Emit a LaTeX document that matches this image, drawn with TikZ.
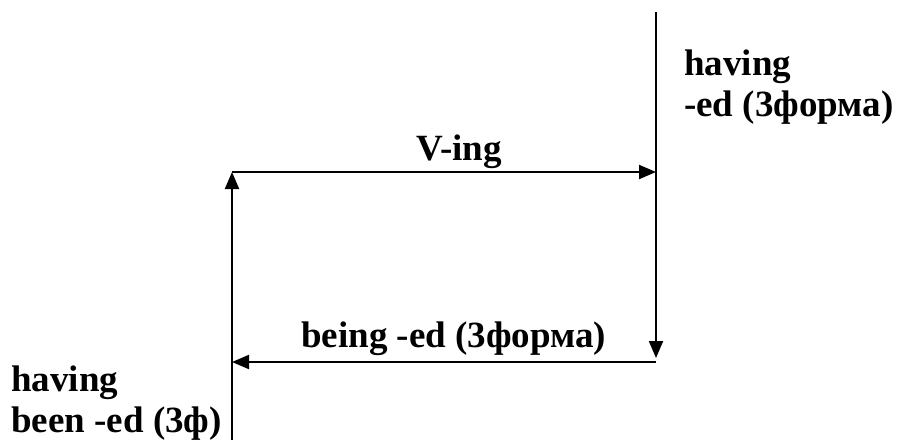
\documentclass[tikz,border=0pt]{standalone}
\usepackage{fontspec}
\setmainfont{Liberation Serif}
\usetikzlibrary{arrows.meta, positioning}

\begin{document}
\begin{tikzpicture}[x=1pt, y=-1pt,
        lbl/.style={font=\fontsize{37}{41}\selectfont\bfseries, inner sep=0pt, align=left, anchor=base west},
        arr/.style={-{Triangle[length=17pt, width=14pt]}, line width=2pt}
    ]
        \useasboundingbox (0,0) rectangle (899,440);
        % corners of the loop
        \coordinate (top) at (656,12);
        \coordinate (ul) at (232,172);
        \coordinate (ur) at (656,172);
        \coordinate (dr) at (656,358);
        \coordinate (ll) at (232,362);
        \coordinate (lr) at (656,362);
        \coordinate (bot) at (232,440);
        \draw[arr] (top) -- (dr);
        \draw[arr] (ul) -- (ur);
        \draw[arr] (bot) -- (ul);
        \draw[arr] (lr) -- (ll);
        % labels (base = last line)
        \node[lbl] (ving) at (416,160) {V-ing};
        \node[lbl] (being) at (301,347) {being -ed (3форма)};
        \node[lbl] (hed) at (684,116) {having\\-ed (3форма)};
        \node[lbl] (hbeen) at (11,432) {having\\been -ed (3ф)};
    \end{tikzpicture}
\end{document}
